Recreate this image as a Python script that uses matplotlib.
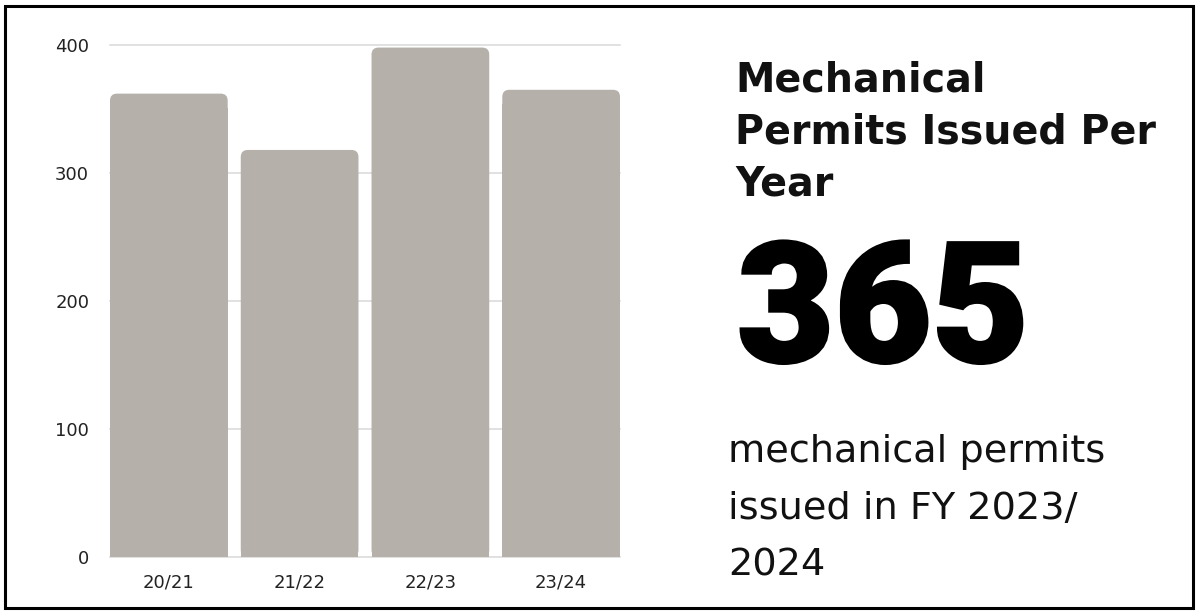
import matplotlib
matplotlib.use("Agg")
import matplotlib.pyplot as plt
import matplotlib.patheffects as pe
from matplotlib.patches import FancyBboxPatch, Rectangle

years = ["20/21", "21/22", "22/23", "23/24"]
permits = [362, 318, 398, 365]
y_ticks = [0, 100, 200, 300, 400]

title_lines = ["Mechanical", "Permits Issued Per", "Year"]
big_number = "365"
caption_lines = ["mechanical permits", "issued in FY 2023/", "2024"]

bar_color = "#b5b0aa"
grid_color = "#d9d9d9"
text_color = "#111111"

W, H = 1199, 613
fig = plt.figure(figsize=(W / 100, H / 100), dpi=100)
fig.patch.set_facecolor("white")

# frame around the whole card
fig.patches.append(Rectangle((5 / W, 5 / H), 1 - 11 / W, 1 - 11 / H,
                             transform=fig.transFigure, fill=False,
                             edgecolor="black", linewidth=2.2))

ax = fig.add_axes([110 / W, 56 / H, 510 / W, 512 / H])
x = list(range(len(years)))
bar_w = 0.9
ax.set_xlim(-0.45, len(years) - 0.55)
ax.set_ylim(0, 400)

for t in y_ticks:
    ax.axhline(t, color=grid_color, linewidth=1.1, zorder=0, clip_on=False)

# px -> data scales for the rounded tops
px_x = (len(years) - 0.1) / 510
px_y = 400 / 512
r = 7
bars = ax.bar(x, [v - 2 * r * px_y for v in permits], width=bar_w,
              color=bar_color, zorder=2, linewidth=0)
for b, v in zip(bars, permits):
    ax.add_patch(FancyBboxPatch((b.get_x(), 0), bar_w, v,
                                boxstyle=f"round,pad=0,rounding_size={r * px_x}",
                                mutation_aspect=px_y / px_x,
                                facecolor=bar_color, edgecolor="none", zorder=2))

ax.set_yticks(y_ticks)
ax.set_xticks(x)
ax.set_xticklabels(years)
ax.tick_params(axis="both", length=0, labelsize=13, labelcolor="#222222")
ax.tick_params(axis="y", pad=15)
ax.tick_params(axis="x", pad=12)
for s in ax.spines.values():
    s.set_visible(False)

# right-hand text block, one baseline per line
for i, line in enumerate(title_lines):
    fig.text(735 / W, 1 - (92 + 51.5 * i) / H, line, fontsize=28.5,
             fontweight="bold", family="DejaVu Sans", color=text_color,
             va="baseline", ha="left")
fig.text(737 / W, 1 - 362 / H, big_number, fontsize=121, fontweight="black",
         family="Roboto", color="black", va="baseline", ha="left",
         path_effects=[pe.withStroke(linewidth=2, foreground="black",
                                     joinstyle="miter")])
for i, line in enumerate(caption_lines):
    fig.text(728 / W, 1 - (462 + 56.6 * i) / H, line, fontsize=27.5,
             family="DejaVu Sans", color=text_color, va="baseline", ha="left")

fig.savefig("out.png", dpi=100, facecolor="white")
